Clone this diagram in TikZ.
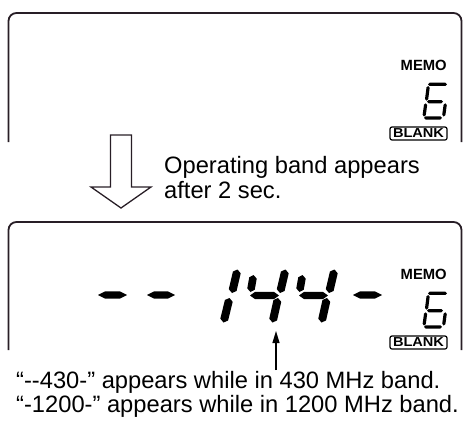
\documentclass[tikz,border=0pt]{standalone}
\usepackage{fontspec}
\setmainfont{Liberation Sans}
\usetikzlibrary{calc,arrows.meta}
\definecolor{framecol}{RGB}{40,30,38}
\tikzset{
  frameline/.style={draw=framecol, line width=1.8pt, rounded corners=8pt},
  lcdfill/.style={fill=black},
  bigtxt/.style={inner sep=0pt, anchor=base west, align=left},
  memotxt/.style={inner sep=0pt, anchor=base west, font=\bfseries\fontsize{14.8}{15}\selectfont},
  blankbox/.style={draw=black, rounded corners=2pt, line width=1.2pt, minimum width=57pt, minimum height=13pt, inner sep=0pt, font=\bfseries\fontsize{13}{13}\selectfont},
}
% #1,#2 end points, #3 chamfer length, #4 half width
\newcommand\lcdseg[4]{\fill[lcdfill] (#1) -- ($(#1)!#3!(#2)!#4!90:(#2)$) -- ($(#2)!#3!(#1)!#4!-90:(#1)$) -- (#2) -- ($(#2)!#3!(#1)!#4!90:(#1)$) -- ($(#1)!#3!(#2)!#4!-90:(#2)$) -- cycle;}
% small memory-channel "6" with vertical offset #1
\newcommand\smallsix[1]{%
  \lcdseg{428,84.3+#1}{447,84.3+#1}{1.6pt}{1.6pt}
  \lcdseg{428.3,86+#1}{426.4,100.7+#1}{1.6pt}{1.6pt}
  \lcdseg{427,101.7+#1}{443,101.7+#1}{1.6pt}{1.6pt}
  \lcdseg{445.4,103.3+#1}{443.6,116.5+#1}{1.6pt}{1.6pt}
  \lcdseg{425.8,103.3+#1}{424,116.5+#1}{1.6pt}{1.6pt}
  \lcdseg{424,117.9+#1}{442,117.9+#1}{1.6pt}{1.6pt}}
\begin{document}
\begin{tikzpicture}[x=1pt,y=-1pt]
\useasboundingbox (0,0) rectangle (464,421);

% ---------- upper display ----------
\draw[frameline] (8.5,142) -- (8.5,13) -- (461.5,13) -- (461.5,142);
\node[memotxt] (memo1) at (400.5,70.8) {MEMO};
\smallsix{0}
\node[blankbox] (blank1) at (418.5,133.5) {\scalebox{1.12}[1]{BLANK}};

% ---------- hollow arrow ----------
\draw[draw=framecol, line width=1.3pt, line join=miter]
  (110.5,135) -- (131.5,135) -- (131.5,187) -- (151,187) -- (121,208)
  -- (91,187) -- (110.5,187) -- cycle;
\node[bigtxt, font=\fontsize{23.7}{25}\selectfont] (note1) at (164,198)
  {Operating band appears\\after 2 sec.};

% ---------- lower display ----------
\draw[frameline] (8.5,350) -- (8.5,222) -- (461.5,222) -- (461.5,350);
\node[memotxt] (memo2) at (400.5,279.8) {MEMO};
\smallsix{209}
\node[blankbox] (blank2) at (418.5,342.5) {\scalebox{1.12}[1]{BLANK}};

% big segments: - - 144 -
\lcdseg{98,295}{127,295}{7pt}{3.6pt}
\lcdseg{147,295}{175,295}{7pt}{3.6pt}
% 1
\lcdseg{237.5,269.5}{232,293}{3pt}{4pt}
\lcdseg{229.5,298}{223.5,322.5}{3pt}{4pt}
% 4
\lcdseg{253.5,275}{250.5,292}{3pt}{3.8pt}
\lcdseg{250,295.5}{279,295.5}{5pt}{3.6pt}
\lcdseg{285.5,269.5}{280,293}{3pt}{4pt}
\lcdseg{278,298}{272.5,322.5}{3pt}{4pt}
% 4
\lcdseg{302.5,275}{299.5,292}{3pt}{3.8pt}
\lcdseg{299,295.5}{328,295.5}{5pt}{3.6pt}
\lcdseg{334.5,269.5}{329,293}{3pt}{4pt}
\lcdseg{327,298}{321.5,322.5}{3pt}{4pt}
% -
\lcdseg{353,295}{382,295}{7pt}{3.6pt}

% pointer arrow
\coordinate (ptail) at (276,370);
\coordinate (ptip) at (276,331);
\draw[line width=1.2pt, -{Triangle[width=7pt,length=12pt]}] (ptail) -- (ptip);

\node[bigtxt, font=\fontsize{23.7}{20}\selectfont] (note2) at (16,412)
  {“-\kern0pt-430-” appears while in 430 MHz band.\\“-1200-” appears while in 1200 MHz band.};
\end{tikzpicture}
\end{document}
